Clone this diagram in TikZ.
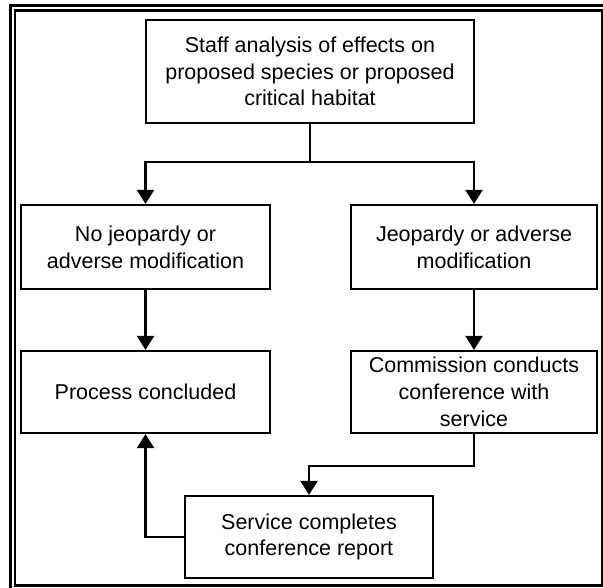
\documentclass[tikz,border=0pt]{standalone}
\usepackage{fontspec}
\setmainfont{Liberation Sans}
\usetikzlibrary{arrows.meta}
\tikzset{
  box/.style={draw=black, line width=2.2pt, rectangle, align=center, inner sep=0pt,
    font=\fontsize{21.5}{26.8}\selectfont},
  conn/.style={draw=black, line width=2.2pt},
  arr/.style={conn, -{Triangle[length=14pt,width=17pt]}},
  frameline/.style={draw=black}
}
\begin{document}
\begin{tikzpicture}[x=1pt,y=-1pt]
\useasboundingbox (0,0) rectangle (603,587);
% frame
\draw[frameline, line width=3pt] (10.5,620) -- (10.5,5.5) -- (640,5.5);
\draw[frameline, line width=2.2pt] (15,10.5) rectangle (602,585.5);
% boxes
\node[box, minimum width=328pt, minimum height=103pt] (staff) at (310,71.5)
  {Staff analysis of effects on\\proposed species or proposed\\critical habitat};
\node[box, minimum width=249pt, minimum height=84pt] (nojeo) at (145.5,247)
  {No jeopardy or\\adverse modification};
\node[box, minimum width=246pt, minimum height=84pt] (jeo) at (474,247)
  {Jeopardy or adverse\\modification};
\node[box, minimum width=249pt, minimum height=82pt] (proc) at (145.5,392)
  {Process concluded};
\node[box, minimum width=246pt, minimum height=82pt] (comm) at (474,392)
  {Commission conducts\\conference with\\service};
\node[box, minimum width=248pt, minimum height=82pt] (serv) at (309,537)
  {Service completes\\conference report};
% connectors
\coordinate (split) at (310,162);
\draw[conn] (staff.south) -- (split);
\draw[arr] (split) -| (nojeo.north);
\draw[arr] (split) -| (jeo.north);
\draw[arr] (nojeo.south) -- (proc.north);
\draw[arr] (jeo.south) -- (comm.north);
\coordinate (cbend) at (474,466);
\draw[arr] (comm.south) -- (cbend) -| (serv.north);
\draw[arr] (serv.west) -| (proc.south);
\end{tikzpicture}
\end{document}
